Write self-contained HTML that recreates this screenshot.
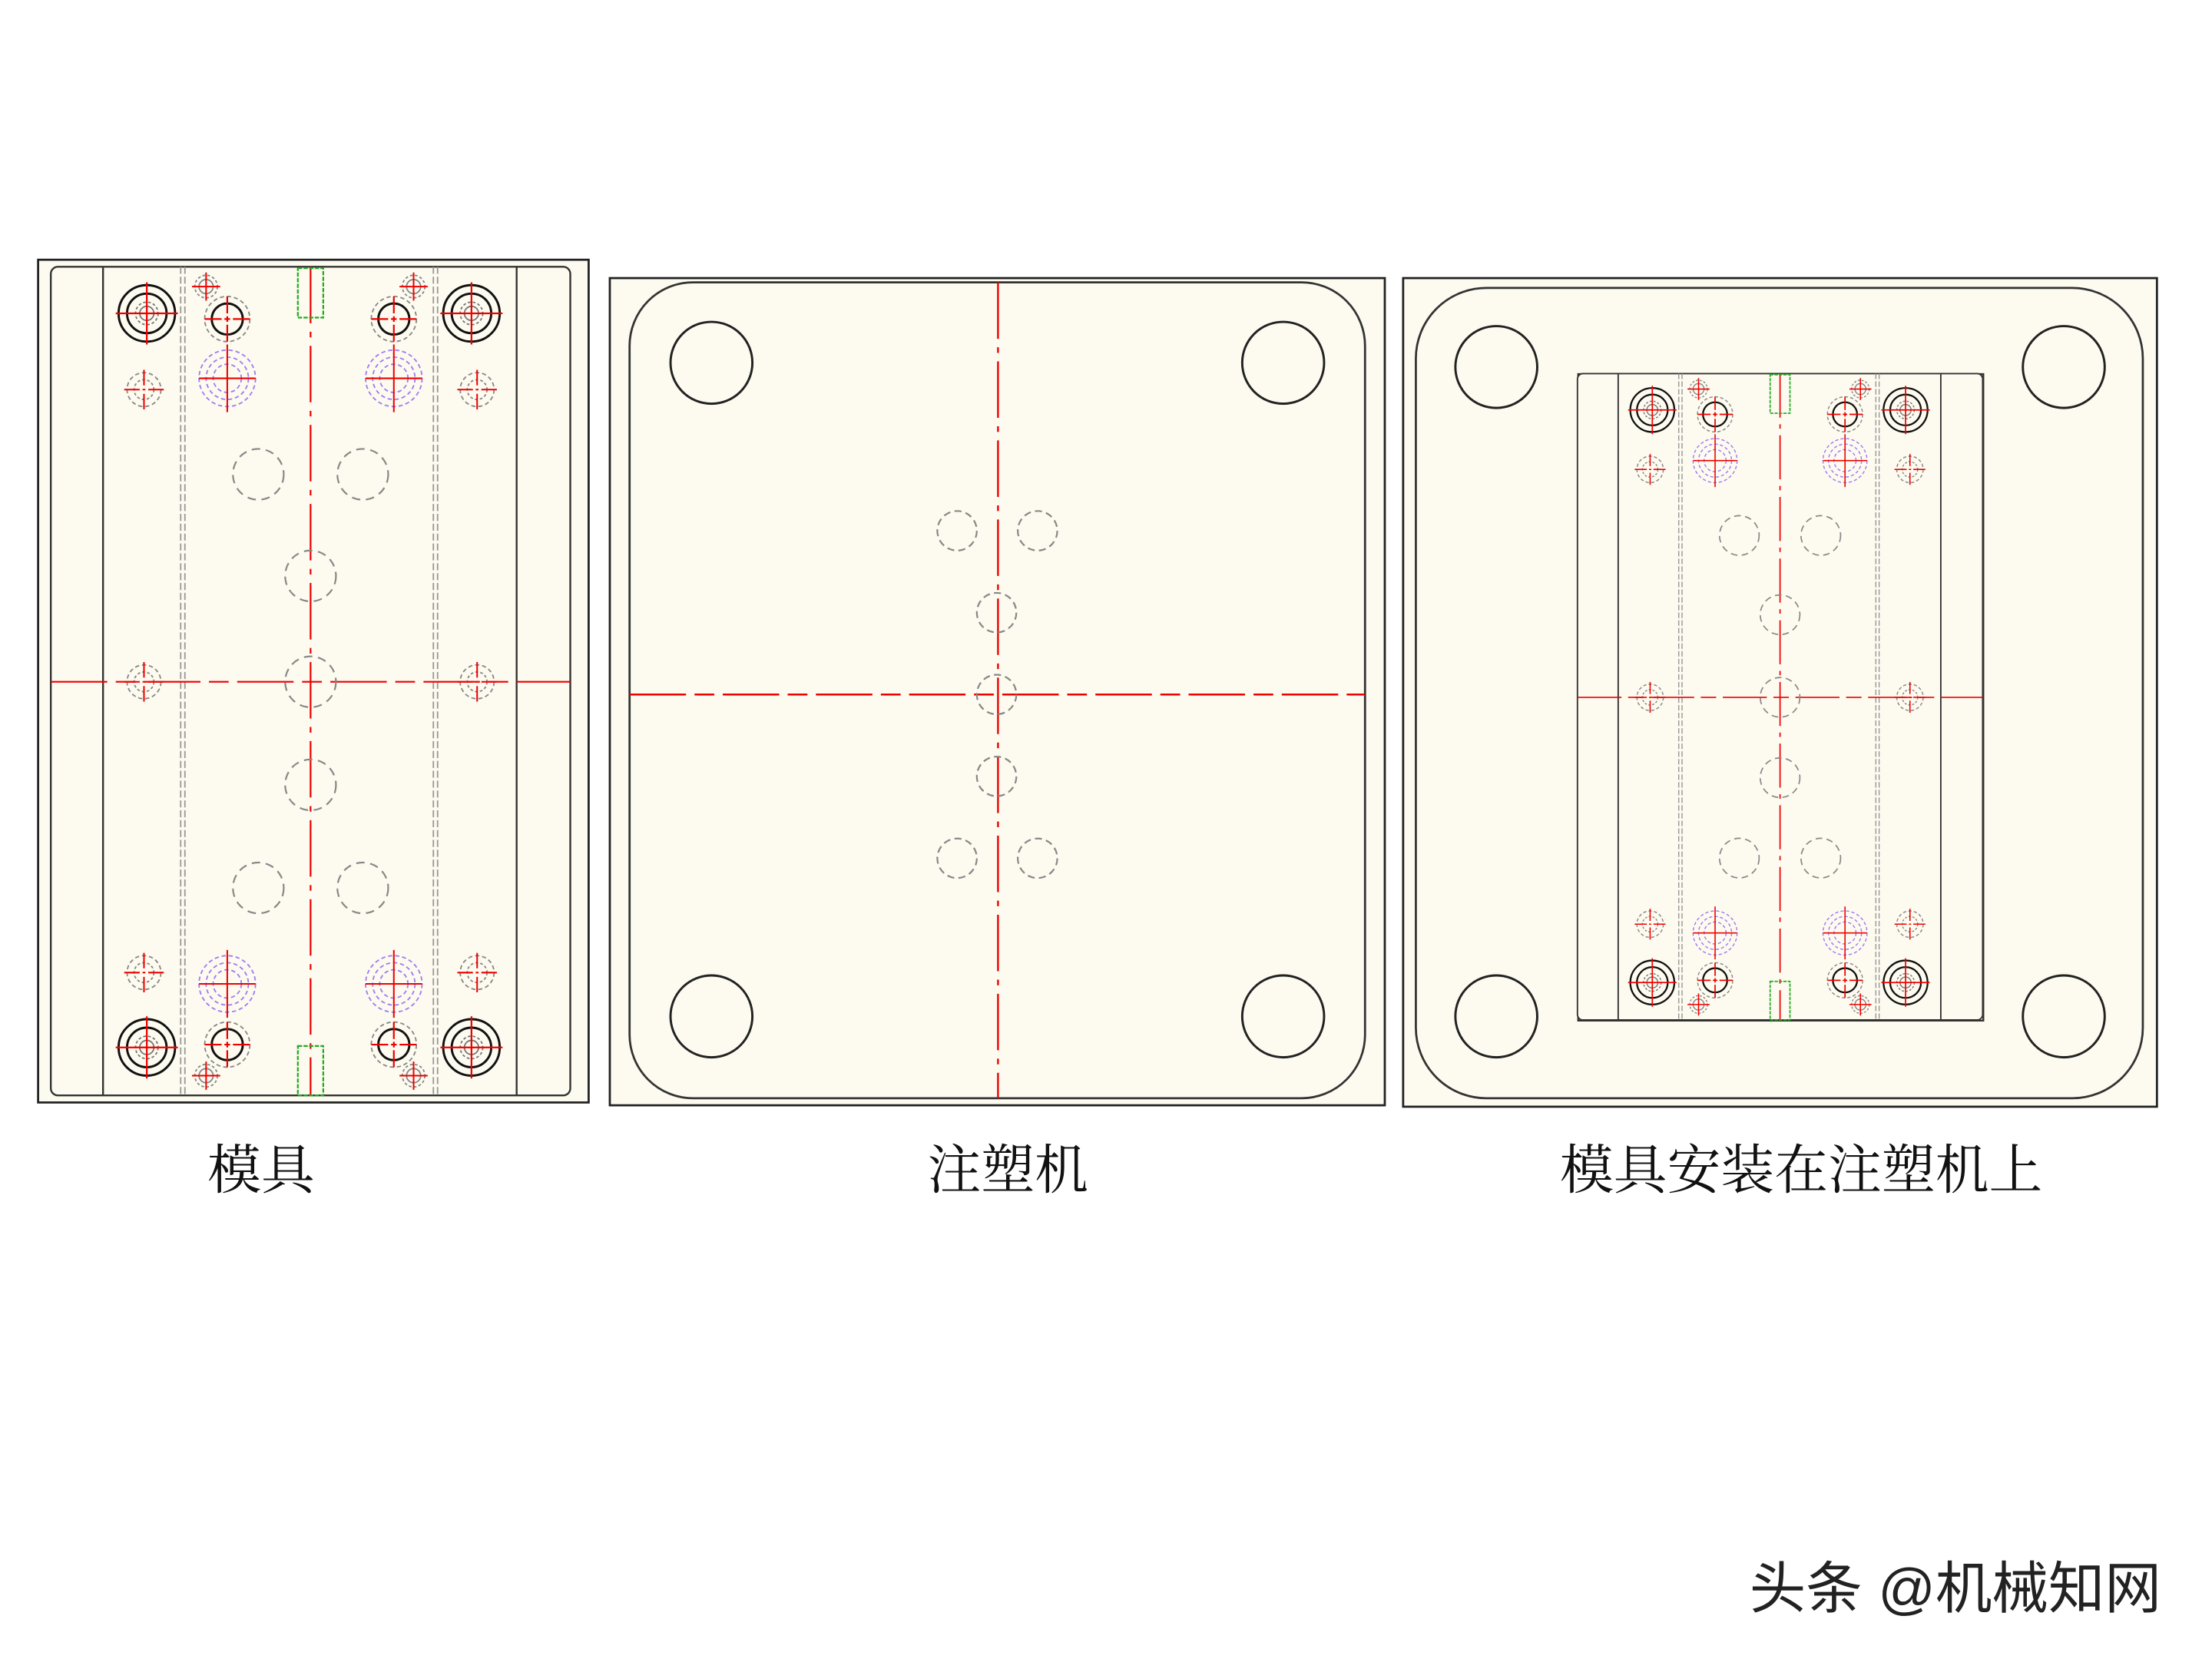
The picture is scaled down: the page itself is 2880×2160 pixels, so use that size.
<!DOCTYPE html>
<html><head><meta charset="utf-8"><style>
html,body{margin:0;padding:0;background:#fff;width:2880px;height:2160px;overflow:hidden}
svg{display:block}
</style></head><body>
<svg width="2880" height="2160" viewBox="0 0 1567 1175.25" xmlns="http://www.w3.org/2000/svg">
<defs>
<g id="big"><circle r="20" fill="none" stroke="#111" stroke-width="1.6"/><circle r="14" fill="none" stroke="#111" stroke-width="1.6"/><circle r="8" fill="none" stroke="#777" stroke-width="1" stroke-dasharray="2 1.5"/><circle r="5" fill="none" stroke="#777" stroke-width="1"/><path d="M-22 0H22M0 -22V22" stroke="#e00" stroke-width="1.2"/></g>
<g id="med"><circle r="16" fill="none" stroke="#888" stroke-width="1" stroke-dasharray="3 2"/><circle r="11" fill="none" stroke="#111" stroke-width="1.6"/><path d="M-16 0H-4M-2 0H2M4 0H16M0 -16V-4M0 -2V2M0 4V16" stroke="#e00" stroke-width="1.2"/></g>
<g id="sm"><circle r="8" fill="none" stroke="#888" stroke-width="1" stroke-dasharray="2 1.5"/><circle r="5" fill="none" stroke="#888" stroke-width="1"/><path d="M-10 0H10M0 -10V10" stroke="#e00" stroke-width="1.1"/></g>
<g id="gr"><circle r="12" fill="none" stroke="#888" stroke-width="1" stroke-dasharray="3 2"/><circle r="7" fill="none" stroke="#888" stroke-width="1" stroke-dasharray="2 1.5"/><path d="M-14 0H-3M-1 0H1M3 0H14M0 -14V-3M0 3V14" stroke="#e00" stroke-width="1.1"/></g>
<g id="pu"><circle r="20" fill="none" stroke="#a07cf0" stroke-width="1" stroke-dasharray="3 2"/><circle r="15" fill="none" stroke="#a07cf0" stroke-width="1" stroke-dasharray="3 2"/><circle r="10" fill="none" stroke="#a07cf0" stroke-width="1" stroke-dasharray="3 2"/><path d="M-20 0H20M0 -24V24" stroke="#e00" stroke-width="1.1"/></g>
<g id="dc"><circle r="18" fill="none" stroke="#888" stroke-width="1.2" stroke-dasharray="6 4"/></g>
<g id="mold">
<rect x="36" y="189" width="368" height="587" rx="5" fill="#fdfbf0" stroke="#333" stroke-width="1.3"/>
<path d="M73 189V776M366 189V776" stroke="#333" stroke-width="1.3"/>
<path d="M128 189V776M131 189V776M307 189V776M310 189V776" stroke="#999" stroke-width="1" stroke-dasharray="5 2"/>
<path d="M220 189V776" stroke="#e00" stroke-width="1.2" stroke-dasharray="40 6 4 6"/>
<path d="M36 483H404" stroke="#e00" stroke-width="1.2" stroke-dasharray="40 6 14 6"/>
<rect x="211" y="190" width="18" height="35" fill="none" stroke="#2a2" stroke-width="1.2" stroke-dasharray="3 1"/>
<rect x="211" y="741" width="18" height="35" fill="none" stroke="#2a2" stroke-width="1.2" stroke-dasharray="3 1"/>
<use href="#big" x="104" y="222"/><use href="#big" x="334" y="222"/><use href="#big" x="104" y="742"/><use href="#big" x="334" y="742"/>
<use href="#med" x="161" y="226"/><use href="#med" x="279" y="226"/><use href="#med" x="161" y="740"/><use href="#med" x="279" y="740"/>
<use href="#sm" x="146" y="203"/><use href="#sm" x="293" y="203"/><use href="#sm" x="146" y="762"/><use href="#sm" x="293" y="762"/>
<use href="#pu" x="161" y="268"/><use href="#pu" x="279" y="268"/><use href="#pu" x="161" y="697"/><use href="#pu" x="279" y="697"/>
<use href="#gr" x="102" y="276"/><use href="#gr" x="338" y="276"/><use href="#gr" x="102" y="689"/><use href="#gr" x="338" y="689"/>
<use href="#gr" x="102" y="483"/><use href="#gr" x="338" y="483"/>
<use href="#dc" x="183" y="336"/><use href="#dc" x="257" y="336"/><use href="#dc" x="220" y="408"/><use href="#dc" x="220" y="483"/><use href="#dc" x="220" y="556"/><use href="#dc" x="183" y="629"/><use href="#dc" x="257" y="629"/>
</g>
<g id="dcs"><circle r="14" fill="none" stroke="#888" stroke-width="1.2" stroke-dasharray="5 3"/></g>
</defs>
<rect width="1567" height="1175.25" fill="#fff"/>
<rect x="27" y="184" width="390" height="597" fill="#fdfbf0" stroke="#222" stroke-width="1.5"/>
<use href="#mold"/>
<rect x="432" y="197" width="549" height="586" fill="#fdfbf0" stroke="#222" stroke-width="1.5"/>
<rect x="446" y="200" width="521" height="578" rx="45" fill="none" stroke="#333" stroke-width="1.5"/>
<g fill="none" stroke="#222" stroke-width="1.6"><circle cx="504" cy="257" r="29"/><circle cx="909" cy="257" r="29"/><circle cx="504" cy="720" r="29"/><circle cx="909" cy="720" r="29"/></g>
<path d="M707 200V778" stroke="#e00" stroke-width="1.3" stroke-dasharray="40 6 4 6"/>
<path d="M446 492H967" stroke="#e00" stroke-width="1.3" stroke-dasharray="40 6 14 6"/>
<use href="#dcs" x="678" y="376"/><use href="#dcs" x="735" y="376"/><use href="#dcs" x="706" y="434"/><use href="#dcs" x="706" y="492"/><use href="#dcs" x="706" y="550"/><use href="#dcs" x="678" y="608"/><use href="#dcs" x="735" y="608"/>
<rect x="994" y="197" width="534" height="587" fill="#fdfbf0" stroke="#222" stroke-width="1.5"/>
<rect x="1003" y="204" width="515" height="574" rx="50" fill="none" stroke="#333" stroke-width="1.5"/>
<g fill="none" stroke="#222" stroke-width="1.6"><circle cx="1060" cy="260" r="29"/><circle cx="1462" cy="260" r="29"/><circle cx="1060" cy="720" r="29"/><circle cx="1462" cy="720" r="29"/></g>
<rect x="1118" y="265" width="287" height="458" fill="#fdfbf0" stroke="#333" stroke-width="1.3"/>
<g transform="translate(1261,494) scale(0.78) translate(-220,-483)"><use href="#mold"/></g>
<g font-family="'Liberation Serif','Noto Serif CJK SC',serif" font-size="38" fill="#111" text-anchor="middle">
<text x="185" y="842">模具</text>
<text x="714" y="842">注塑机</text>
<text x="1276" y="842">模具安装在注塑机上</text>
</g>
<text x="1531" y="1139" text-anchor="end" font-family="'Liberation Sans','Noto Sans CJK SC',sans-serif" font-size="40" fill="#222">头条 @机械知网</text>
</svg>
</body></html>
